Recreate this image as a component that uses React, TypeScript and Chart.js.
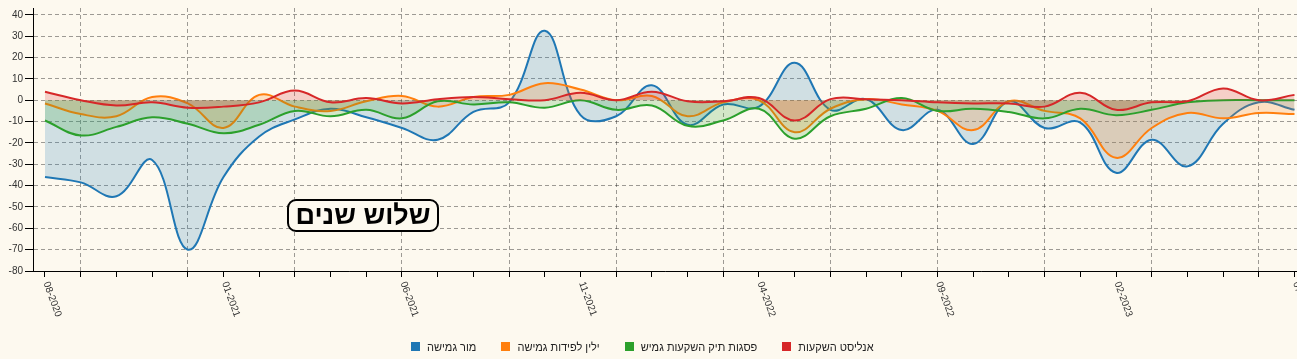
import React, { useEffect, useRef } from "react";
import { Chart, registerables } from "chart.js";

Chart.register(...registerables);

const MONTHS = [
  "08-2020", "09-2020", "10-2020", "11-2020", "12-2020", "01-2021",
  "02-2021", "03-2021", "04-2021", "05-2021", "06-2021", "07-2021",
  "08-2021", "09-2021", "10-2021", "11-2021", "12-2021", "01-2022",
  "02-2022", "03-2022", "04-2022", "05-2022", "06-2022", "07-2022",
  "08-2022", "09-2022", "10-2022", "11-2022", "12-2022", "01-2023",
  "02-2023", "03-2023", "04-2023", "05-2023", "06-2023", "07-2023",
];

const SERIES_NAMES = ["מור גמישה", "ילין לפידות גמישה", "פסגות תיק השקעות גמיש", "אנליסט השקעות"];

const MOR = [-36, -38.5, -45, -28, -70, -36, -17, -9, -4, -8, -13, -18.5, -5.5, -1, 32.5, -7, -7.5, 7, -11.5, -2, -3, 17.5, -4.5, 0.5, -14, -4.5, -20.5, -0.5, -13, -10.5, -34, -18.5, -31, -11, -1, -4.5];
const YELIN = [-1.5, -6.5, -7.5, 1.5, -1.5, -13, 2.5, -3, -5, -0.5, 2, -3, 1.5, 2.5, 8, 5, 0, 2, -7.5, -1, 0, -15, -4, 0.5, -2, -5, -14, -0.5, -5, -8.5, -27, -13, -6, -8.5, -6, -6.5];
const PSAGOT = [-9.5, -16.5, -12.5, -8, -11, -15.5, -11.5, -5, -7.5, -4.5, -8.5, -0.5, -2, -1, -3.5, 0, -4.5, -2.5, -12, -9.5, -4, -18, -7.5, -4, 1, -5, -4, -5.5, -8.5, -4, -7, -4.5, -1, 0, 0, 0];
const ANALYST = [4, 0, -2.5, -1, -3.5, -3, -1, 4.5, -1, 1, -1.5, 0.5, 1.5, 0.5, 0, 3.5, 0, 4, -0.5, -0.5, 1, -9.5, 0.5, 0.5, 0, -1, -1.5, -1.5, -3, 3.5, -4.5, -1, -0.5, 5.5, 0, 2.5];

const Y_TICKS = [-80, -70, -60, -50, -40, -30, -20, -10, 0, 10, 20, 30, 40];
const TITLE = "שלוש שנים";

const COLORS = ["#1f77b4", "#ff7f0e", "#2ca02c", "#d62728"];
const FILLS = [
  "rgba(31,119,180,0.2)",
  "rgba(255,127,14,0.2)",
  "rgba(44,160,44,0.2)",
  "rgba(214,39,40,0.2)",
];
const BG = "#fdf9ef";
const GRID = "rgba(0,0,0,0.38)";

const xLabelPlugin = {
  id: "xLabels",
  afterDraw(chart: any) {
    const sc = chart.scales.x;
    const ctx = chart.ctx;
    ctx.save();
    ctx.font = "10px Arial";
    ctx.fillStyle = "#333";
    ctx.textAlign = "left";
    ctx.textBaseline = "middle";
    MONTHS.forEach((m, i) => {
      if (i % 5 !== 0) return;
      const x = sc.getPixelForValue(i);
      ctx.save();
      ctx.translate(x + 1, sc.top + 11);
      ctx.rotate((70 * Math.PI) / 180);
      ctx.fillText(m, 0, 0);
      ctx.restore();
    });
    ctx.restore();
  },
};

export default function App() {
  const ref = useRef<HTMLCanvasElement | null>(null);

  useEffect(() => {
    document.body.style.margin = "0";
    document.body.style.background = BG;
    const series = [MOR, YELIN, PSAGOT, ANALYST];
    const chart = new Chart(ref.current as HTMLCanvasElement, {
      type: "line",
      data: {
        datasets: series.map((vals, k) => ({
          label: SERIES_NAMES[k],
          data: vals.map((v, i) => ({ x: i, y: v })),
          borderColor: COLORS[k],
          backgroundColor: FILLS[k],
          borderWidth: 2,
          fill: "origin",
          tension: 0.4,
          pointRadius: 0,
          order: 4 - k,
        })),
      },
      options: {
        responsive: false,
        animation: false,
        layout: { padding: { top: 5, left: 0, right: 0, bottom: 0 } },
        plugins: { legend: { display: false }, tooltip: { enabled: false } },
        scales: {
          x: {
            type: "linear",
            min: -0.336,
            max: 35.07,
            afterBuildTicks: (scale: any) => {
              scale.ticks = MONTHS.map((_, i) => ({ value: i }));
            },
            afterFit: (scale: any) => {
              scale.height = 88;
            },
            ticks: { display: false },
            grid: {
              color: (c: any) => (c.index % 3 === 1 ? GRID : "rgba(0,0,0,0)"),
              tickColor: "#000",
              tickLength: 6,
              lineWidth: 1,
            },
            border: { color: "#000", width: 1, dash: [4, 3] },
          },
          y: {
            type: "linear",
            min: -80,
            max: 43.2,
            afterBuildTicks: (scale: any) => {
              scale.ticks = Y_TICKS.map((v) => ({ value: v }));
            },
            afterFit: (scale: any) => {
              scale.width = 33;
            },
            ticks: {
              font: { family: "Arial", size: 10 },
              color: "#333",
              padding: 2,
            },
            grid: {
              color: GRID,
              tickColor: "#000",
              tickLength: 8,
              lineWidth: 1,
            },
            border: { color: "#000", width: 1, dash: [4, 3] },
          },
        },
      },
      plugins: [xLabelPlugin],
    } as any);
    return () => chart.destroy();
  }, []);

  return (
    <div style={{ position: "relative", width: 1297, height: 359, background: BG, overflow: "hidden" }}>
      <canvas ref={ref} width={1297} height={359} style={{ display: "block" }} />
      <div
        style={{
          position: "absolute",
          left: 287,
          top: 199,
          width: 152,
          height: 33,
          boxSizing: "border-box",
          border: "2px solid #000",
          borderRadius: 9,
          background: BG,
          display: "flex",
          alignItems: "center",
          justifyContent: "center",
          font: "bold 27px Arial",
          color: "#000",
          direction: "rtl",
          lineHeight: "29px",
        }}
      >
        {TITLE}
      </div>
      <div
        style={{
          position: "absolute",
          left: 411,
          top: 339,
          height: 15,
          display: "flex",
          alignItems: "center",
          font: "11px Arial",
          color: "#222",
          whiteSpace: "nowrap",
        }}
      >
        {SERIES_NAMES.map((name, k) => (
          <div key={name} style={{ display: "flex", alignItems: "center", marginRight: 25 }}>
            <span style={{ display: "inline-block", width: 9, height: 9, background: COLORS[k], marginRight: 7 }} />
            <span style={{ direction: "rtl" }}>{name}</span>
          </div>
        ))}
      </div>
    </div>
  );
}
